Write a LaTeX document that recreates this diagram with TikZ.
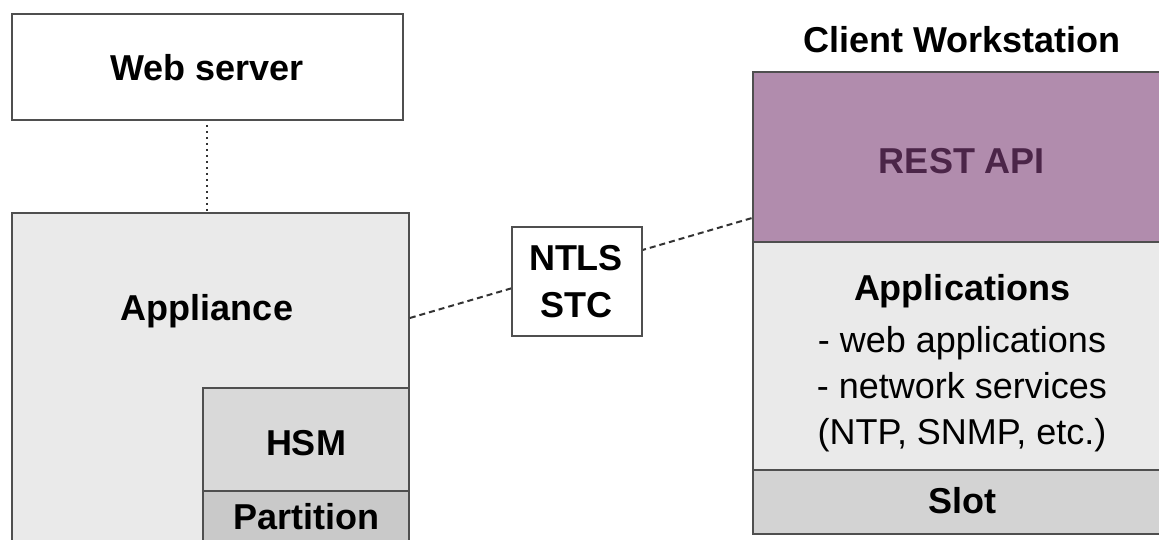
\documentclass[tikz,border=0pt]{standalone}
\usepackage{fontspec}
\setmainfont{Liberation Sans}
\definecolor{bordergray}{HTML}{4F4F4F}
\definecolor{lightfill}{HTML}{EAEAEA}
\definecolor{hsmfill}{HTML}{D9D9D9}
\definecolor{partfill}{HTML}{C9C9C9}
\definecolor{slotfill}{HTML}{D3D3D3}
\definecolor{restfill}{HTML}{B18CAD}
\definecolor{resttext}{HTML}{4B2548}
\definecolor{linegray}{HTML}{333333}
\tikzset{
  boxshape/.style={draw=bordergray, line width=1.8pt, rectangle, inner sep=0pt, anchor=north west},
  lbl/.style={inner sep=0pt, anchor=base, font=\fontsize{36}{44}\selectfont\bfseries},
  plain/.style={inner sep=0pt, anchor=base, font=\fontsize{36}{44}\selectfont},
  dotline/.style={draw=linegray, line width=2pt, dash pattern=on 2.5pt off 3.5pt},
  dashline/.style={draw=linegray, line width=2pt, dash pattern=on 6pt off 4pt}
}
\begin{document}
\begin{tikzpicture}[x=1pt,y=-1pt]
\useasboundingbox (0,0) rectangle (1159,539);
\clip (0,0) rectangle (1159,539);

% left column
\node[boxshape, fill=white, minimum width=391pt, minimum height=106pt] (web) at (11,13) {};
\node[lbl] (webtxt) at (207,80) {Web server};

\node[boxshape, fill=lightfill, minimum width=397pt, minimum height=400pt] (appliance) at (11,212) {};
\node[lbl] (appltxt) at (207,320) {Appliance};

\node[boxshape, fill=hsmfill, minimum width=206pt, minimum height=103pt] (hsm) at (202,387) {};
\node[lbl] (hsmtxt) at (306,455) {HSM};
\node[boxshape, fill=partfill, minimum width=206pt, minimum height=80pt] (partition) at (202,490) {};
\node[lbl] (parttxt) at (306,529) {Partition};

\draw[dotline] (web.south -| 207,0) ++(0,4) coordinate (w1) -- (w1 |- appliance.north);

% right column
\node[lbl] (clienttitle) at (962,52) {Client Workstation};
\node[boxshape, fill=restfill, minimum width=420pt, minimum height=170pt] (rest) at (752,71) {};
\node[lbl, text=resttext] (resttxt) at (962,173) {REST API};
\node[boxshape, fill=lightfill, minimum width=420pt, minimum height=228pt] (apps) at (752,241) {};
\node[lbl] (appstxt) at (962,300) {Applications};
\node[plain] (apps1) at (962,352) {- web applications};
\node[plain] (apps2) at (962,398) {- network services};
\node[plain] (apps3) at (962,444) {(NTP, SNMP, etc.)};
\node[boxshape, fill=slotfill, minimum width=420pt, minimum height=64pt] (slot) at (752,469) {};
\node[lbl] (slottxt) at (962,513) {Slot};

% connector behind the NTLS box
\coordinate (a1) at ([yshift=-106pt]appliance.north east);
\coordinate (r1) at ([yshift=-147pt]rest.north west);
\draw[dashline] (a1) -- (r1);

\node[boxshape, fill=white, minimum width=130pt, minimum height=109pt] (ntls) at (511,226) {};
\node[lbl] (ntlstxt) at (576,270) {NTLS};
\node[lbl] (stctxt) at (576,317) {STC};
\end{tikzpicture}
\end{document}
